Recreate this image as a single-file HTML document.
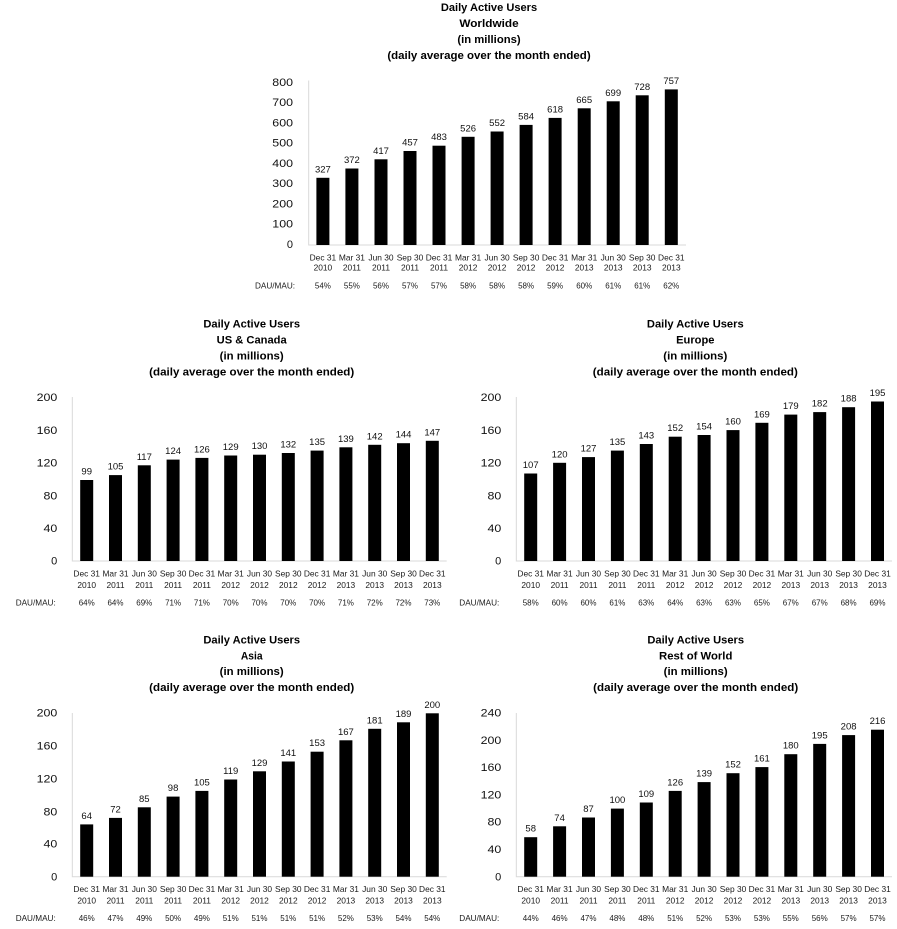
<!DOCTYPE html>
<html><head><meta charset="utf-8"><style>
html,body{margin:0;padding:0;background:#fff;}
svg{display:block;}
text{font-family:"Liberation Sans",Arial,sans-serif;fill:#000;}
.t{font-size:11px;font-weight:bold;text-anchor:middle;}
.k{font-size:11px;text-anchor:end;fill:#111;}
.d{font-size:9.5px;text-anchor:middle;fill:#111;}
.c{font-size:8.4px;text-anchor:middle;fill:#1a1a1a;}
.p{font-size:8px;text-anchor:middle;fill:#1a1a1a;}
.m{font-size:8.2px;fill:#1a1a1a;}
.ax{stroke:#d9d9d9;stroke-width:1;fill:none;}
</style></head><body>
<svg width="897" height="929" viewBox="0 0 897 929" xmlns="http://www.w3.org/2000/svg">
<rect width="897" height="929" fill="#fff"/>

<!-- ===== WORLDWIDE ===== -->
<text class="t" x="489" y="11.2" textLength="96.3" lengthAdjust="spacingAndGlyphs">Daily Active Users</text>
<text class="t" x="489" y="27.1" textLength="59.3" lengthAdjust="spacingAndGlyphs">Worldwide</text>
<text class="t" x="489" y="43" textLength="63.3" lengthAdjust="spacingAndGlyphs">(in millions)</text>
<text class="t" x="489" y="58.9" textLength="203.3" lengthAdjust="spacingAndGlyphs">(daily average over the month ended)</text>
<path class="ax" d="M308.7 80.5V245H686"/>
<g>
<text class="k" x="293" y="247.9">0</text>
<text class="k" x="293" y="227.7" textLength="20.7" lengthAdjust="spacingAndGlyphs">100</text>
<text class="k" x="293" y="207.4" textLength="20.7" lengthAdjust="spacingAndGlyphs">200</text>
<text class="k" x="293" y="187.2" textLength="20.7" lengthAdjust="spacingAndGlyphs">300</text>
<text class="k" x="293" y="166.9" textLength="20.7" lengthAdjust="spacingAndGlyphs">400</text>
<text class="k" x="293" y="146.7" textLength="20.7" lengthAdjust="spacingAndGlyphs">500</text>
<text class="k" x="293" y="126.4" textLength="20.7" lengthAdjust="spacingAndGlyphs">600</text>
<text class="k" x="293" y="106.2" textLength="20.7" lengthAdjust="spacingAndGlyphs">700</text>
<text class="k" x="293" y="85.9" textLength="20.7" lengthAdjust="spacingAndGlyphs">800</text>
</g>
<g fill="#000">
<rect x="316.4" y="177.8" width="13" height="67.2"/>
<rect x="345.4" y="168.5" width="13" height="76.5"/>
<rect x="374.5" y="159.3" width="13" height="85.7"/>
<rect x="403.5" y="151.0" width="13" height="94.0"/>
<rect x="432.5" y="145.7" width="13" height="99.3"/>
<rect x="461.6" y="136.8" width="13" height="108.2"/>
<rect x="490.6" y="131.5" width="13" height="113.5"/>
<rect x="519.6" y="124.9" width="13" height="120.1"/>
<rect x="548.6" y="117.9" width="13" height="127.1"/>
<rect x="577.7" y="108.3" width="13" height="136.7"/>
<rect x="606.7" y="101.3" width="13" height="143.7"/>
<rect x="635.7" y="95.3" width="13" height="149.7"/>
<rect x="664.8" y="89.4" width="13" height="155.6"/>
</g>
<g>
<text class="d" x="322.9" y="172.3">327</text>
<text class="d" x="351.9" y="163.0">372</text>
<text class="d" x="381.0" y="153.8">417</text>
<text class="d" x="410.0" y="145.5">457</text>
<text class="d" x="439.0" y="140.2">483</text>
<text class="d" x="468.1" y="131.3">526</text>
<text class="d" x="497.1" y="126.0">552</text>
<text class="d" x="526.1" y="119.4">584</text>
<text class="d" x="555.1" y="112.4">618</text>
<text class="d" x="584.2" y="102.8">665</text>
<text class="d" x="613.2" y="95.8">699</text>
<text class="d" x="642.2" y="89.8">728</text>
<text class="d" x="671.3" y="83.9">757</text>
</g>
<g>
<text class="c" x="322.9" y="260.3">Dec 31</text><text class="c" x="322.9" y="270.7">2010</text>
<text class="c" x="351.9" y="260.3">Mar 31</text><text class="c" x="351.9" y="270.7">2011</text>
<text class="c" x="381.0" y="260.3">Jun 30</text><text class="c" x="381.0" y="270.7">2011</text>
<text class="c" x="410.0" y="260.3">Sep 30</text><text class="c" x="410.0" y="270.7">2011</text>
<text class="c" x="439.0" y="260.3">Dec 31</text><text class="c" x="439.0" y="270.7">2011</text>
<text class="c" x="468.1" y="260.3">Mar 31</text><text class="c" x="468.1" y="270.7">2012</text>
<text class="c" x="497.1" y="260.3">Jun 30</text><text class="c" x="497.1" y="270.7">2012</text>
<text class="c" x="526.1" y="260.3">Sep 30</text><text class="c" x="526.1" y="270.7">2012</text>
<text class="c" x="555.1" y="260.3">Dec 31</text><text class="c" x="555.1" y="270.7">2012</text>
<text class="c" x="584.2" y="260.3">Mar 31</text><text class="c" x="584.2" y="270.7">2013</text>
<text class="c" x="613.2" y="260.3">Jun 30</text><text class="c" x="613.2" y="270.7">2013</text>
<text class="c" x="642.2" y="260.3">Sep 30</text><text class="c" x="642.2" y="270.7">2013</text>
<text class="c" x="671.3" y="260.3">Dec 31</text><text class="c" x="671.3" y="270.7">2013</text>
</g>
<text class="m" x="255" y="288.7">DAU/MAU:</text>
<g>
<text class="p" x="322.9" y="288.7">54%</text>
<text class="p" x="351.9" y="288.7">55%</text>
<text class="p" x="381.0" y="288.7">56%</text>
<text class="p" x="410.0" y="288.7">57%</text>
<text class="p" x="439.0" y="288.7">57%</text>
<text class="p" x="468.1" y="288.7">58%</text>
<text class="p" x="497.1" y="288.7">58%</text>
<text class="p" x="526.1" y="288.7">58%</text>
<text class="p" x="555.1" y="288.7">59%</text>
<text class="p" x="584.2" y="288.7">60%</text>
<text class="p" x="613.2" y="288.7">61%</text>
<text class="p" x="642.2" y="288.7">61%</text>
<text class="p" x="671.3" y="288.7">62%</text>
</g>

<!-- ===== US & CANADA ===== -->
<text class="t" x="251.7" y="327.7" textLength="96.7" lengthAdjust="spacingAndGlyphs">Daily Active Users</text>
<text class="t" x="251.7" y="343.6" textLength="70" lengthAdjust="spacingAndGlyphs">US &amp; Canada</text>
<text class="t" x="251.7" y="359.5" textLength="64" lengthAdjust="spacingAndGlyphs">(in millions)</text>
<text class="t" x="251.7" y="375.4" textLength="205" lengthAdjust="spacingAndGlyphs">(daily average over the month ended)</text>
<path class="ax" d="M72.3 397V561H446.7"/>
<g>
<text class="k" x="57.3" y="564.6">0</text>
<text class="k" x="57.3" y="531.9" textLength="13.8" lengthAdjust="spacingAndGlyphs">40</text>
<text class="k" x="57.3" y="499.6" textLength="13.8" lengthAdjust="spacingAndGlyphs">80</text>
<text class="k" x="57.3" y="466.6" textLength="20.7" lengthAdjust="spacingAndGlyphs">120</text>
<text class="k" x="57.3" y="433.9" textLength="20.7" lengthAdjust="spacingAndGlyphs">160</text>
<text class="k" x="57.3" y="400.9" textLength="20.7" lengthAdjust="spacingAndGlyphs">200</text>
</g>
<g fill="#000">
<rect x="80.2" y="480.0" width="13" height="81.0"/>
<rect x="109.0" y="475.1" width="13" height="85.9"/>
<rect x="137.8" y="465.3" width="13" height="95.7"/>
<rect x="166.6" y="459.6" width="13" height="101.4"/>
<rect x="195.4" y="457.9" width="13" height="103.1"/>
<rect x="224.2" y="455.5" width="13" height="105.5"/>
<rect x="253.0" y="454.7" width="13" height="106.3"/>
<rect x="281.8" y="453.0" width="13" height="108.0"/>
<rect x="310.6" y="450.6" width="13" height="110.4"/>
<rect x="339.4" y="447.3" width="13" height="113.7"/>
<rect x="368.2" y="444.8" width="13" height="116.2"/>
<rect x="397.0" y="443.2" width="13" height="117.8"/>
<rect x="425.8" y="440.8" width="13" height="120.2"/>
</g>
<g>
<text class="d" x="86.7" y="474.5">99</text>
<text class="d" x="115.5" y="469.6">105</text>
<text class="d" x="144.3" y="459.8">117</text>
<text class="d" x="173.1" y="454.1">124</text>
<text class="d" x="201.9" y="452.4">126</text>
<text class="d" x="230.7" y="450.0">129</text>
<text class="d" x="259.5" y="449.2">130</text>
<text class="d" x="288.3" y="447.5">132</text>
<text class="d" x="317.1" y="445.1">135</text>
<text class="d" x="345.9" y="441.8">139</text>
<text class="d" x="374.7" y="439.3">142</text>
<text class="d" x="403.5" y="437.7">144</text>
<text class="d" x="432.3" y="435.3">147</text>
</g>
<g>
<text class="c" x="86.7" y="576.5">Dec 31</text><text class="c" x="86.7" y="588">2010</text>
<text class="c" x="115.5" y="576.5">Mar 31</text><text class="c" x="115.5" y="588">2011</text>
<text class="c" x="144.3" y="576.5">Jun 30</text><text class="c" x="144.3" y="588">2011</text>
<text class="c" x="173.1" y="576.5">Sep 30</text><text class="c" x="173.1" y="588">2011</text>
<text class="c" x="201.9" y="576.5">Dec 31</text><text class="c" x="201.9" y="588">2011</text>
<text class="c" x="230.7" y="576.5">Mar 31</text><text class="c" x="230.7" y="588">2012</text>
<text class="c" x="259.5" y="576.5">Jun 30</text><text class="c" x="259.5" y="588">2012</text>
<text class="c" x="288.3" y="576.5">Sep 30</text><text class="c" x="288.3" y="588">2012</text>
<text class="c" x="317.1" y="576.5">Dec 31</text><text class="c" x="317.1" y="588">2012</text>
<text class="c" x="345.9" y="576.5">Mar 31</text><text class="c" x="345.9" y="588">2013</text>
<text class="c" x="374.7" y="576.5">Jun 30</text><text class="c" x="374.7" y="588">2013</text>
<text class="c" x="403.5" y="576.5">Sep 30</text><text class="c" x="403.5" y="588">2013</text>
<text class="c" x="432.3" y="576.5">Dec 31</text><text class="c" x="432.3" y="588">2013</text>
</g>
<text class="m" x="15.7" y="605.5">DAU/MAU:</text>
<g>
<text class="p" x="86.7" y="605.5">64%</text>
<text class="p" x="115.5" y="605.5">64%</text>
<text class="p" x="144.3" y="605.5">69%</text>
<text class="p" x="173.1" y="605.5">71%</text>
<text class="p" x="201.9" y="605.5">71%</text>
<text class="p" x="230.7" y="605.5">70%</text>
<text class="p" x="259.5" y="605.5">70%</text>
<text class="p" x="288.3" y="605.5">70%</text>
<text class="p" x="317.1" y="605.5">70%</text>
<text class="p" x="345.9" y="605.5">71%</text>
<text class="p" x="374.7" y="605.5">72%</text>
<text class="p" x="403.5" y="605.5">72%</text>
<text class="p" x="432.3" y="605.5">73%</text>
</g>

<!-- ===== EUROPE ===== -->
<text class="t" x="695.3" y="327.7" textLength="96.7" lengthAdjust="spacingAndGlyphs">Daily Active Users</text>
<text class="t" x="695.3" y="343.6" textLength="38.3" lengthAdjust="spacingAndGlyphs">Europe</text>
<text class="t" x="695.3" y="359.5" textLength="64" lengthAdjust="spacingAndGlyphs">(in millions)</text>
<text class="t" x="695.3" y="375.4" textLength="205" lengthAdjust="spacingAndGlyphs">(daily average over the month ended)</text>
<path class="ax" d="M516.3 397V561H892"/>
<g>
<text class="k" x="501.3" y="564.6">0</text>
<text class="k" x="501.3" y="531.9" textLength="13.8" lengthAdjust="spacingAndGlyphs">40</text>
<text class="k" x="501.3" y="499.6" textLength="13.8" lengthAdjust="spacingAndGlyphs">80</text>
<text class="k" x="501.3" y="466.6" textLength="20.7" lengthAdjust="spacingAndGlyphs">120</text>
<text class="k" x="501.3" y="433.9" textLength="20.7" lengthAdjust="spacingAndGlyphs">160</text>
<text class="k" x="501.3" y="400.9" textLength="20.7" lengthAdjust="spacingAndGlyphs">200</text>
</g>
<g fill="#000">
<rect x="524.2" y="473.5" width="13" height="87.5"/>
<rect x="553.1" y="462.8" width="13" height="98.2"/>
<rect x="582.0" y="457.1" width="13" height="103.9"/>
<rect x="610.9" y="450.6" width="13" height="110.4"/>
<rect x="639.8" y="444.0" width="13" height="117.0"/>
<rect x="668.7" y="436.7" width="13" height="124.3"/>
<rect x="697.6" y="435.0" width="13" height="126.0"/>
<rect x="726.5" y="430.1" width="13" height="130.9"/>
<rect x="755.4" y="422.8" width="13" height="138.2"/>
<rect x="784.3" y="414.6" width="13" height="146.4"/>
<rect x="813.2" y="412.1" width="13" height="148.9"/>
<rect x="842.1" y="407.2" width="13" height="153.8"/>
<rect x="871.0" y="401.5" width="13" height="159.5"/>
</g>
<g>
<text class="d" x="530.7" y="468.0">107</text>
<text class="d" x="559.6" y="457.3">120</text>
<text class="d" x="588.5" y="451.6">127</text>
<text class="d" x="617.4" y="445.1">135</text>
<text class="d" x="646.3" y="438.5">143</text>
<text class="d" x="675.2" y="431.2">152</text>
<text class="d" x="704.1" y="429.5">154</text>
<text class="d" x="733.0" y="424.6">160</text>
<text class="d" x="761.9" y="417.3">169</text>
<text class="d" x="790.8" y="409.1">179</text>
<text class="d" x="819.7" y="406.6">182</text>
<text class="d" x="848.6" y="401.7">188</text>
<text class="d" x="877.5" y="396.0">195</text>
</g>
<g>
<text class="c" x="530.7" y="576.5">Dec 31</text><text class="c" x="530.7" y="588">2010</text>
<text class="c" x="559.6" y="576.5">Mar 31</text><text class="c" x="559.6" y="588">2011</text>
<text class="c" x="588.5" y="576.5">Jun 30</text><text class="c" x="588.5" y="588">2011</text>
<text class="c" x="617.4" y="576.5">Sep 30</text><text class="c" x="617.4" y="588">2011</text>
<text class="c" x="646.3" y="576.5">Dec 31</text><text class="c" x="646.3" y="588">2011</text>
<text class="c" x="675.2" y="576.5">Mar 31</text><text class="c" x="675.2" y="588">2012</text>
<text class="c" x="704.1" y="576.5">Jun 30</text><text class="c" x="704.1" y="588">2012</text>
<text class="c" x="733.0" y="576.5">Sep 30</text><text class="c" x="733.0" y="588">2012</text>
<text class="c" x="761.9" y="576.5">Dec 31</text><text class="c" x="761.9" y="588">2012</text>
<text class="c" x="790.8" y="576.5">Mar 31</text><text class="c" x="790.8" y="588">2013</text>
<text class="c" x="819.7" y="576.5">Jun 30</text><text class="c" x="819.7" y="588">2013</text>
<text class="c" x="848.6" y="576.5">Sep 30</text><text class="c" x="848.6" y="588">2013</text>
<text class="c" x="877.5" y="576.5">Dec 31</text><text class="c" x="877.5" y="588">2013</text>
</g>
<text class="m" x="459.3" y="605.5">DAU/MAU:</text>
<g>
<text class="p" x="530.7" y="605.5">58%</text>
<text class="p" x="559.6" y="605.5">60%</text>
<text class="p" x="588.5" y="605.5">60%</text>
<text class="p" x="617.4" y="605.5">61%</text>
<text class="p" x="646.3" y="605.5">63%</text>
<text class="p" x="675.2" y="605.5">64%</text>
<text class="p" x="704.1" y="605.5">63%</text>
<text class="p" x="733.0" y="605.5">63%</text>
<text class="p" x="761.9" y="605.5">65%</text>
<text class="p" x="790.8" y="605.5">67%</text>
<text class="p" x="819.7" y="605.5">67%</text>
<text class="p" x="848.6" y="605.5">68%</text>
<text class="p" x="877.5" y="605.5">69%</text>
</g>

<!-- ===== ASIA ===== -->
<text class="t" x="251.7" y="643.4" textLength="96.7" lengthAdjust="spacingAndGlyphs">Daily Active Users</text>
<text class="t" x="251.7" y="659.3" textLength="21.7" lengthAdjust="spacingAndGlyphs">Asia</text>
<text class="t" x="251.7" y="675.2" textLength="64" lengthAdjust="spacingAndGlyphs">(in millions)</text>
<text class="t" x="251.7" y="691.1" textLength="205" lengthAdjust="spacingAndGlyphs">(daily average over the month ended)</text>
<path class="ax" d="M72.3 713V876.7H446.7"/>
<g>
<text class="k" x="57.3" y="880.3">0</text>
<text class="k" x="57.3" y="847.6" textLength="13.8" lengthAdjust="spacingAndGlyphs">40</text>
<text class="k" x="57.3" y="815.3" textLength="13.8" lengthAdjust="spacingAndGlyphs">80</text>
<text class="k" x="57.3" y="782.3" textLength="20.7" lengthAdjust="spacingAndGlyphs">120</text>
<text class="k" x="57.3" y="749.6" textLength="20.7" lengthAdjust="spacingAndGlyphs">160</text>
<text class="k" x="57.3" y="716.6" textLength="20.7" lengthAdjust="spacingAndGlyphs">200</text>
</g>
<g fill="#000">
<rect x="80.2" y="824.4" width="13" height="52.3"/>
<rect x="109.0" y="817.9" width="13" height="58.8"/>
<rect x="137.8" y="807.3" width="13" height="69.4"/>
<rect x="166.6" y="796.6" width="13" height="80.1"/>
<rect x="195.4" y="790.9" width="13" height="85.8"/>
<rect x="224.2" y="779.5" width="13" height="97.2"/>
<rect x="253.0" y="771.3" width="13" height="105.4"/>
<rect x="281.8" y="761.5" width="13" height="115.2"/>
<rect x="310.6" y="751.7" width="13" height="125.0"/>
<rect x="339.4" y="740.3" width="13" height="136.4"/>
<rect x="368.2" y="728.8" width="13" height="147.9"/>
<rect x="397.0" y="722.3" width="13" height="154.4"/>
<rect x="425.8" y="713.3" width="13" height="163.4"/>
</g>
<g>
<text class="d" x="86.7" y="818.9">64</text>
<text class="d" x="115.5" y="812.4">72</text>
<text class="d" x="144.3" y="801.8">85</text>
<text class="d" x="173.1" y="791.1">98</text>
<text class="d" x="201.9" y="785.4">105</text>
<text class="d" x="230.7" y="774.0">119</text>
<text class="d" x="259.5" y="765.8">129</text>
<text class="d" x="288.3" y="756.0">141</text>
<text class="d" x="317.1" y="746.2">153</text>
<text class="d" x="345.9" y="734.8">167</text>
<text class="d" x="374.7" y="723.3">181</text>
<text class="d" x="403.5" y="716.8">189</text>
<text class="d" x="432.3" y="707.8">200</text>
</g>
<g>
<text class="c" x="86.7" y="892.2">Dec 31</text><text class="c" x="86.7" y="903.7">2010</text>
<text class="c" x="115.5" y="892.2">Mar 31</text><text class="c" x="115.5" y="903.7">2011</text>
<text class="c" x="144.3" y="892.2">Jun 30</text><text class="c" x="144.3" y="903.7">2011</text>
<text class="c" x="173.1" y="892.2">Sep 30</text><text class="c" x="173.1" y="903.7">2011</text>
<text class="c" x="201.9" y="892.2">Dec 31</text><text class="c" x="201.9" y="903.7">2011</text>
<text class="c" x="230.7" y="892.2">Mar 31</text><text class="c" x="230.7" y="903.7">2012</text>
<text class="c" x="259.5" y="892.2">Jun 30</text><text class="c" x="259.5" y="903.7">2012</text>
<text class="c" x="288.3" y="892.2">Sep 30</text><text class="c" x="288.3" y="903.7">2012</text>
<text class="c" x="317.1" y="892.2">Dec 31</text><text class="c" x="317.1" y="903.7">2012</text>
<text class="c" x="345.9" y="892.2">Mar 31</text><text class="c" x="345.9" y="903.7">2013</text>
<text class="c" x="374.7" y="892.2">Jun 30</text><text class="c" x="374.7" y="903.7">2013</text>
<text class="c" x="403.5" y="892.2">Sep 30</text><text class="c" x="403.5" y="903.7">2013</text>
<text class="c" x="432.3" y="892.2">Dec 31</text><text class="c" x="432.3" y="903.7">2013</text>
</g>
<text class="m" x="15.7" y="921.2">DAU/MAU:</text>
<g>
<text class="p" x="86.7" y="921.2">46%</text>
<text class="p" x="115.5" y="921.2">47%</text>
<text class="p" x="144.3" y="921.2">49%</text>
<text class="p" x="173.1" y="921.2">50%</text>
<text class="p" x="201.9" y="921.2">49%</text>
<text class="p" x="230.7" y="921.2">51%</text>
<text class="p" x="259.5" y="921.2">51%</text>
<text class="p" x="288.3" y="921.2">51%</text>
<text class="p" x="317.1" y="921.2">51%</text>
<text class="p" x="345.9" y="921.2">52%</text>
<text class="p" x="374.7" y="921.2">53%</text>
<text class="p" x="403.5" y="921.2">54%</text>
<text class="p" x="432.3" y="921.2">54%</text>
</g>

<!-- ===== REST OF WORLD ===== -->
<text class="t" x="695.7" y="643.4" textLength="96.7" lengthAdjust="spacingAndGlyphs">Daily Active Users</text>
<text class="t" x="695.7" y="659.3" textLength="73.3" lengthAdjust="spacingAndGlyphs">Rest of World</text>
<text class="t" x="695.7" y="675.2" textLength="64" lengthAdjust="spacingAndGlyphs">(in millions)</text>
<text class="t" x="695.7" y="691.1" textLength="205" lengthAdjust="spacingAndGlyphs">(daily average over the month ended)</text>
<path class="ax" d="M516.3 713V876.7H892"/>
<g>
<text class="k" x="501.3" y="880.3">0</text>
<text class="k" x="501.3" y="853.0" textLength="13.8" lengthAdjust="spacingAndGlyphs">40</text>
<text class="k" x="501.3" y="825.7" textLength="13.8" lengthAdjust="spacingAndGlyphs">80</text>
<text class="k" x="501.3" y="798.5" textLength="20.7" lengthAdjust="spacingAndGlyphs">120</text>
<text class="k" x="501.3" y="771.2" textLength="20.7" lengthAdjust="spacingAndGlyphs">160</text>
<text class="k" x="501.3" y="743.9" textLength="20.7" lengthAdjust="spacingAndGlyphs">200</text>
<text class="k" x="501.3" y="716.6" textLength="20.7" lengthAdjust="spacingAndGlyphs">240</text>
</g>
<g fill="#000">
<rect x="524.2" y="837.2" width="13" height="39.5"/>
<rect x="553.1" y="826.3" width="13" height="50.4"/>
<rect x="582.0" y="817.5" width="13" height="59.2"/>
<rect x="610.9" y="808.6" width="13" height="68.1"/>
<rect x="639.8" y="802.5" width="13" height="74.2"/>
<rect x="668.7" y="790.9" width="13" height="85.8"/>
<rect x="697.6" y="782.1" width="13" height="94.6"/>
<rect x="726.5" y="773.2" width="13" height="103.5"/>
<rect x="755.4" y="767.1" width="13" height="109.6"/>
<rect x="784.3" y="754.2" width="13" height="122.5"/>
<rect x="813.2" y="743.9" width="13" height="132.8"/>
<rect x="842.1" y="735.1" width="13" height="141.6"/>
<rect x="871.0" y="729.7" width="13" height="147.0"/>
</g>
<g>
<text class="d" x="530.7" y="831.7">58</text>
<text class="d" x="559.6" y="820.8">74</text>
<text class="d" x="588.5" y="812.0">87</text>
<text class="d" x="617.4" y="803.1">100</text>
<text class="d" x="646.3" y="797.0">109</text>
<text class="d" x="675.2" y="785.4">126</text>
<text class="d" x="704.1" y="776.6">139</text>
<text class="d" x="733.0" y="767.7">152</text>
<text class="d" x="761.9" y="761.6">161</text>
<text class="d" x="790.8" y="748.7">180</text>
<text class="d" x="819.7" y="738.4">195</text>
<text class="d" x="848.6" y="729.6">208</text>
<text class="d" x="877.5" y="724.2">216</text>
</g>
<g>
<text class="c" x="530.7" y="892.2">Dec 31</text><text class="c" x="530.7" y="903.7">2010</text>
<text class="c" x="559.6" y="892.2">Mar 31</text><text class="c" x="559.6" y="903.7">2011</text>
<text class="c" x="588.5" y="892.2">Jun 30</text><text class="c" x="588.5" y="903.7">2011</text>
<text class="c" x="617.4" y="892.2">Sep 30</text><text class="c" x="617.4" y="903.7">2011</text>
<text class="c" x="646.3" y="892.2">Dec 31</text><text class="c" x="646.3" y="903.7">2011</text>
<text class="c" x="675.2" y="892.2">Mar 31</text><text class="c" x="675.2" y="903.7">2012</text>
<text class="c" x="704.1" y="892.2">Jun 30</text><text class="c" x="704.1" y="903.7">2012</text>
<text class="c" x="733.0" y="892.2">Sep 30</text><text class="c" x="733.0" y="903.7">2012</text>
<text class="c" x="761.9" y="892.2">Dec 31</text><text class="c" x="761.9" y="903.7">2012</text>
<text class="c" x="790.8" y="892.2">Mar 31</text><text class="c" x="790.8" y="903.7">2013</text>
<text class="c" x="819.7" y="892.2">Jun 30</text><text class="c" x="819.7" y="903.7">2013</text>
<text class="c" x="848.6" y="892.2">Sep 30</text><text class="c" x="848.6" y="903.7">2013</text>
<text class="c" x="877.5" y="892.2">Dec 31</text><text class="c" x="877.5" y="903.7">2013</text>
</g>
<text class="m" x="459.3" y="921.2">DAU/MAU:</text>
<g>
<text class="p" x="530.7" y="921.2">44%</text>
<text class="p" x="559.6" y="921.2">46%</text>
<text class="p" x="588.5" y="921.2">47%</text>
<text class="p" x="617.4" y="921.2">48%</text>
<text class="p" x="646.3" y="921.2">48%</text>
<text class="p" x="675.2" y="921.2">51%</text>
<text class="p" x="704.1" y="921.2">52%</text>
<text class="p" x="733.0" y="921.2">53%</text>
<text class="p" x="761.9" y="921.2">53%</text>
<text class="p" x="790.8" y="921.2">55%</text>
<text class="p" x="819.7" y="921.2">56%</text>
<text class="p" x="848.6" y="921.2">57%</text>
<text class="p" x="877.5" y="921.2">57%</text>
</g>
</svg>
</body></html>
